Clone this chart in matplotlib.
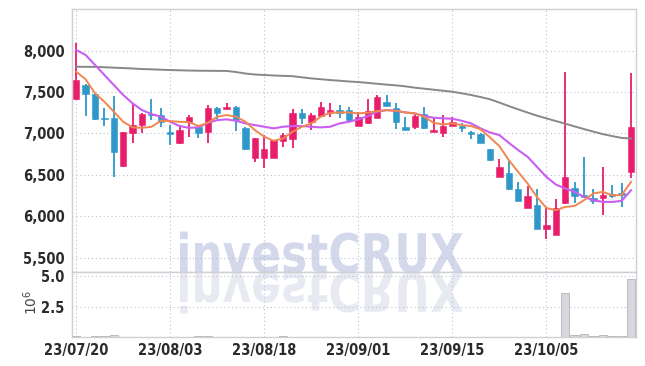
import matplotlib
matplotlib.use('Agg')
import matplotlib.pyplot as plt
import numpy as np
from matplotlib.textpath import TextPath
from matplotlib.patches import PathPatch
from matplotlib.font_manager import FontProperties
from matplotlib.transforms import Affine2D, IdentityTransform

# daily candles, 60 trading days starting 23/07/20
opens = [7420, 7585, 7475, 7190, 7182, 6610, 7000, 7100, 7235, 7225,
         7012, 6880, 7140, 7075, 7020, 7303, 7290, 7315, 7060, 6700,
         6700, 6700, 6905, 6928, 7243, 7140, 7210, 7250, 7282, 7282,
         7093, 7129, 7190, 7379, 7307, 7077, 7081, 7234, 7020, 7008,
         7089, 7085, 7020, 6992, 6810, 6475, 6517, 6323, 6105, 6130,
         5851, 5778, 6154, 6339, 6254, 6221, 6214, 6274, 6282, 6536]
highs = [8090, 7600, 7480, 7303, 7450, 7020, 7350, 7245, 7412, 7303,
         7100, 7100, 7222, 7085, 7345, 7323, 7365, 7331, 7080, 6945,
         6980, 6920, 7008, 7290, 7290, 7243, 7385, 7363, 7343, 7320,
         7262, 7412, 7464, 7464, 7363, 7194, 7234, 7315, 7194, 7218,
         7194, 7121, 7025, 7010, 6815, 6693, 6665, 6415, 6363, 6323,
         6113, 6202, 7746, 6415, 6710, 6323, 6596, 6380, 6403, 7734]
lows = [7410, 7210, 7160, 7090, 6475, 6600, 6890, 7000, 7160, 7073,
        6860, 6870, 6960, 6950, 6885, 7170, 7285, 7032, 6800, 6650,
        6580, 6700, 6840, 6820, 7120, 7040, 7200, 7200, 7182, 7140,
        7090, 7120, 7185, 7330, 7049, 7040, 7049, 7049, 7015, 6952,
        7085, 7018, 6928, 6880, 6670, 6470, 6320, 6180, 6100, 5840,
        5730, 5770, 6150, 6161, 6235, 6142, 6012, 6214, 6113, 6456]
closes = [7645, 7475, 7175, 7175, 6771, 7020, 7097, 7240, 7222, 7140,
          6995, 7040, 7200, 7008, 7305, 7250, 7323, 7161, 6810, 6940,
          6810, 6920, 6980, 7243, 7182, 7222, 7315, 7282, 7250, 7161,
          7202, 7274, 7444, 7335, 7141, 7044, 7210, 7068, 7040, 7093,
          7133, 7070, 6988, 6887, 6677, 6590, 6323, 6185, 6242, 5846,
          5890, 6097, 6468, 6246, 6238, 6185, 6254, 6246, 6262, 7073]

ma_short = [7746, 7654, 7484, 7383, 7262, 7141, 7073, 7068, 7080, 7153,
            7149, 7141, 7137, 7089, 7129, 7202, 7222, 7202, 7141, 7040,
            6960, 6911, 6940, 7020, 7081, 7121, 7202, 7250, 7254, 7254,
            7242, 7250, 7270, 7282, 7274, 7254, 7242, 7202, 7129, 7109,
            7121, 7101, 7089, 7049, 6952, 6847, 6678, 6536, 6395, 6233,
            6100, 6072, 6112, 6124, 6193, 6275, 6294, 6254, 6254, 6415]
ma_mid = [8008, 7948, 7827, 7706, 7585, 7464, 7363, 7282, 7234, 7202,
          7141, 7089, 7068, 7073, 7129, 7161, 7170, 7153, 7121, 7101,
          7081, 7061, 7081, 7089, 7089, 7081, 7073, 7081, 7121, 7141,
          7170, 7210, 7262, 7282, 7274, 7254, 7242, 7210, 7190, 7182,
          7178, 7153, 7121, 7061, 7012, 6980, 6887, 6799, 6718, 6596,
          6475, 6383, 6335, 6294, 6233, 6193, 6173, 6173, 6185, 6314]
ma_long = [7806, 7805, 7804, 7800, 7795, 7790, 7785, 7778, 7775, 7770,
           7766, 7763, 7760, 7758, 7757, 7756, 7755, 7742, 7724, 7712,
           7706, 7700, 7696, 7692, 7678, 7665, 7655, 7645, 7637, 7628,
           7621, 7611, 7600, 7590, 7581, 7569, 7553, 7541, 7529, 7516,
           7504, 7485, 7464, 7440, 7413, 7373, 7331, 7291, 7252, 7215,
           7182, 7150, 7118, 7085, 7053, 7022, 6992, 6968, 6946, 6938]

# volume in millions
volume = [0.05, 0.03, 0.10, 0.12, 0.20, 0.04, 0.03, 0.02, 0.03, 0.02,
          0.02, 0.02, 0.03, 0.08, 0.10, 0.04, 0.03, 0.03, 0.03, 0.03,
          0.03, 0.03, 0.09, 0.04, 0.03, 0.02, 0.02, 0.02, 0.02, 0.02,
          0.02, 0.02, 0.03, 0.02, 0.02, 0.02, 0.02, 0.02, 0.02, 0.02,
          0.02, 0.02, 0.02, 0.02, 0.02, 0.02, 0.02, 0.02, 0.02, 0.02,
          0.02, 0.03, 3.60, 0.14, 0.24, 0.10, 0.14, 0.05, 0.10, 4.73]

tick_pos = [0, 10, 20, 30, 40, 50]
tick_labels = ["23/07/20", "23/08/03", "23/08/18", "23/09/01", "23/09/15", "23/10/05"]
price_ticks = [5500, 6000, 6500, 7000, 7500, 8000]
vol_ticks = [2.5, 5.0]

up_col = '#e81e6b'
down_col = '#2f97c9'
grid_col = '#bcc0d8'
spine_col = '#d0d0d4'
txt_col = '#2b2b2b'

fig = plt.figure(figsize=(6.45, 3.66), dpi=100)
ax = fig.add_axes([0.1109, 0.2555, 0.8747, 0.7191])
axv = fig.add_axes([0.1109, 0.0792, 0.8747, 0.1763], sharex=ax)

x = np.arange(len(opens))
o = np.array(opens); c = np.array(closes)
cols = [up_col if cc >= oo else down_col for oo, cc in zip(o, c)]
bottoms = np.minimum(o, c)
heights = np.maximum(np.abs(c - o), 14)

ax.vlines(x, lows, highs, colors=cols, linewidth=1.3, zorder=2)
ax.bar(x, heights, 0.68, bottom=bottoms, color=cols, edgecolor=cols, linewidth=0.4, zorder=3)
ax.plot(x, ma_long, color='#888888', lw=1.4, zorder=4)
ax.plot(x, ma_mid, color='#c95ef0', lw=1.5, zorder=4)
ax.plot(x, ma_short, color='#f0874f', lw=1.4, zorder=5)

axv.bar(x, volume, 0.9, color='#d7d7dd', edgecolor='#b4b4bc', linewidth=0.6, zorder=3)

ax.set_xlim(-0.5, 59.5)
ax.set_ylim(5320, 8500)
axv.set_ylim(0, 5.3)

ax.set_yticks(price_ticks)
ax.set_yticklabels([f"{p:,}" for p in price_ticks])
axv.set_yticks(vol_ticks)
axv.set_yticklabels(["2.5", "5.0"])
axv.set_xticks(tick_pos)
axv.set_xticklabels(tick_labels)
ax.tick_params(axis='x', labelbottom=False)

for a in (ax, axv):
    a.set_axisbelow(True)
    a.grid(True, color=grid_col, linestyle=(0, (1, 2.5)), linewidth=0.8)
    a.tick_params(length=0, labelsize=10.5, labelcolor=txt_col, pad=5)
    for lab in a.get_xticklabels() + a.get_yticklabels():
        lab.set_fontweight('bold')
        lab.set_fontstretch('condensed')
        lab.set_family('DejaVu Sans')
    for s in a.spines.values():
        s.set_color(spine_col)
        s.set_linewidth(1.0)
axv.tick_params(axis='x', pad=4)

fig.text(0.047, 0.175, r'$10^{6}$', rotation=90, ha='center', va='center',
         fontsize=10, color='#444444', family='DejaVu Serif')

# watermark with reflection
fp = FontProperties(family='DejaVu Sans', weight='bold')
wm = TextPath((0, 0), "investCRUX", size=100, prop=fp)
caps = TextPath((0, 0), "CRUX", size=100, prop=fp).get_extents()
ext = wm.get_extents()
sx = 283.0 / ext.width
sy = 40.0 / caps.ymax
x0 = 180.0 - ext.x0 * sx
base = 366.0 - 272.5
t_up = Affine2D().scale(sx, sy).translate(x0, base)
t_dn = Affine2D().scale(sx, -sy).translate(x0, base)
ax.add_patch(PathPatch(wm, transform=t_up + IdentityTransform(), facecolor='#d3d9eb',
                       edgecolor='none', zorder=0.2))
axv.add_patch(PathPatch(wm, transform=t_dn + IdentityTransform(), facecolor='#e8eaf2',
                        edgecolor='none', zorder=0.2))

fig.savefig('out.png', dpi=100)
